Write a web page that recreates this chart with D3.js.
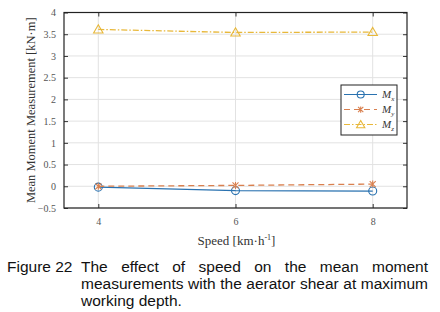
<!DOCTYPE html>
<html>
<head>
<meta charset="utf-8">
<script src="https://cdn.jsdelivr.net/npm/d3@7"></script>
<style>
  body { margin: 0; background: #fff; }
  svg { display: block; }
</style>
</head>
<body>
<div id="chart"></div>
<script>
var speeds = [4, 6, 8];
var mx = [-0.02, -0.10, -0.11];
var my = [0.00, 0.02, 0.05];
var mz = [3.61, 3.54, 3.55];
var xTicks = [4, 6, 8];
var yTicks = [-0.5, 0, 0.5, 1, 1.5, 2, 2.5, 3, 3.5, 4];
var captionLines = [
  "The effect of speed on the mean moment",
  "measurements with the aerator shear at maximum",
  "working depth."
];

var dim = { width: 440, height: 312, left: 64, right: 407, top: 12.5, bottom: 208 };
var serif = "'Liberation Serif', 'Times New Roman', serif";

var svg = d3.select("#chart").append("svg")
  .attr("width", dim.width).attr("height", dim.height);

var xScale = d3.scaleLinear().domain([3.5, 8.5]).range([dim.left, dim.right]);
var yScale = d3.scaleLinear().domain([-0.5, 4]).range([dim.bottom, dim.top]);

// grid
svg.append("g").selectAll("line").data(xTicks).join("line")
  .attr("x1", d => xScale(d)).attr("x2", d => xScale(d))
  .attr("y1", dim.top).attr("y2", dim.bottom)
  .attr("stroke", "#e2e2e2").attr("stroke-width", 1);
svg.append("g").selectAll("line").data(yTicks).join("line")
  .attr("x1", dim.left).attr("x2", dim.right)
  .attr("y1", d => yScale(d)).attr("y2", d => yScale(d))
  .attr("stroke", "#e2e2e2").attr("stroke-width", 1);

// axes (ticks inward)
function styleAxis(g) {
  g.select(".domain").remove();
  g.selectAll(".tick line").attr("stroke", "#333");
  g.selectAll(".tick text").attr("fill", "#555")
    .style("font-family", serif)
    .style("font-size", "10px");
}
svg.append("g").attr("transform", `translate(0,${dim.bottom})`)
  .call(d3.axisBottom(xScale).tickValues(xTicks).tickSize(-4).tickPadding(10).tickFormat(d3.format("d")))
  .call(styleAxis);
svg.append("g").attr("transform", `translate(0,${dim.top})`)
  .call(d3.axisTop(xScale).tickValues(xTicks).tickSize(-4).tickFormat(""))
  .call(styleAxis);
svg.append("g").attr("transform", `translate(${dim.left},0)`)
  .call(d3.axisLeft(yScale).tickValues(yTicks).tickSize(-4).tickPadding(8).tickFormat(d3.format("")))
  .call(styleAxis);
svg.append("g").attr("transform", `translate(${dim.right},0)`)
  .call(d3.axisRight(yScale).tickValues(yTicks).tickSize(-4).tickFormat(""))
  .call(styleAxis);

svg.append("rect")
  .attr("x", dim.left).attr("y", dim.top)
  .attr("width", dim.right - dim.left).attr("height", dim.bottom - dim.top)
  .attr("fill", "none").attr("stroke", "#222").attr("stroke-width", 1.2);

// series
var series = [
  { name: "x", values: mx, color: "#2a72b0", dash: null, marker: "circle" },
  { name: "y", values: my, color: "#d9804f", dash: "6,4", marker: "cross" },
  { name: "z", values: mz, color: "#e8b83a", dash: "6,2,1.5,2", marker: "triangle" }
];

var line = d3.line().x(d => xScale(d.x)).y(d => yScale(d.y));

function drawMarker(g, type, x, y, color, r) {
  if (type === "circle") {
    g.append("circle").attr("cx", x).attr("cy", y).attr("r", r)
      .attr("fill", "none").attr("stroke", color).attr("stroke-width", 1.1);
  } else if (type === "cross") {
    var s = r * 0.75;
    g.append("path")
      .attr("d", `M${x - s},${y - s}L${x + s},${y + s}M${x - s},${y + s}L${x + s},${y - s}M${x},${y - s - 0.5}L${x},${y + s + 0.5}`)
      .attr("stroke", color).attr("stroke-width", 1.1);
  } else {
    g.append("path")
      .attr("d", d3.symbol().type(d3.symbolTriangle).size(r * r * 2.4)())
      .attr("transform", `translate(${x},${y + 0.8})`)
      .attr("fill", "none").attr("stroke", color).attr("stroke-width", 1.1);
  }
}

series.forEach(function (s) {
  var data = speeds.map((x, i) => ({ x: x, y: s.values[i] }));
  var g = svg.append("g");
  g.append("path").datum(data)
    .attr("d", line)
    .attr("fill", "none")
    .attr("stroke", s.color)
    .attr("stroke-width", 1.3)
    .attr("stroke-dasharray", s.dash);
  data.forEach(d => drawMarker(g, s.marker, xScale(d.x), yScale(d.y), s.color, 4));
});

// legend
var legend = svg.append("g");
legend.append("rect")
  .attr("x", 341).attr("y", 85).attr("width", 56).attr("height", 50)
  .attr("fill", "#fff").attr("stroke", "#222").attr("stroke-width", 1);
series.forEach(function (s, i) {
  var y = 94.5 + i * 15;
  legend.append("line")
    .attr("x1", 344).attr("x2", 377).attr("y1", y).attr("y2", y)
    .attr("stroke", s.color).attr("stroke-width", 1.2)
    .attr("stroke-dasharray", s.dash);
  drawMarker(legend, s.marker, 360.7, y, s.color, 3.5);
  var t = legend.append("text").attr("x", 382).attr("y", y + 3)
    .style("font-family", serif)
    .style("font-size", "11px").style("font-style", "italic").attr("fill", "#333");
  t.append("tspan").text("M");
  t.append("tspan").attr("dy", 3).style("font-size", "7px").text(s.name);
});

// axis labels
svg.append("text")
  .attr("transform", `translate(35,${(dim.top + dim.bottom) / 2}) rotate(-90)`)
  .attr("text-anchor", "middle")
  .style("font-family", serif)
  .style("font-size", "12.5px").attr("fill", "#333")
  .text("Mean Moment Measurement [kN·m]");

var xl = svg.append("text")
  .attr("x", (dim.left + dim.right) / 2 + 1).attr("y", 245)
  .attr("text-anchor", "middle")
  .style("font-family", serif)
  .style("font-size", "13px").attr("fill", "#333");
xl.append("tspan").text("Speed [km·h");
xl.append("tspan").attr("dy", -5).style("font-size", "8px").text("-1");
xl.append("tspan").attr("dy", 5).text("]");

// caption
var capFont = "'Liberation Sans', Arial, sans-serif";
var capSize = "15.5px";
svg.append("text").attr("x", 7).attr("y", 271.5)
  .style("font-family", capFont).style("font-size", capSize).attr("fill", "#111")
  .text("Figure 22");

var capLeft = 81, capRight = 428;
captionLines.forEach(function (ln, i) {
  var y = 271.5 + i * 17;
  var words = ln.split(" ");
  var g = svg.append("g");
  var nodes = words.map(w => g.append("text").attr("y", y)
    .style("font-family", capFont).style("font-size", capSize).attr("fill", "#111").text(w));
  var widths = nodes.map(n => n.node().getComputedTextLength());
  var total = d3.sum(widths);
  var last = i === captionLines.length - 1;
  var gap = last ? 4.3 : (capRight - capLeft - total) / (words.length - 1);
  var x = capLeft;
  nodes.forEach(function (n, j) { n.attr("x", x); x += widths[j] + gap; });
});
</script>
</body>
</html>
